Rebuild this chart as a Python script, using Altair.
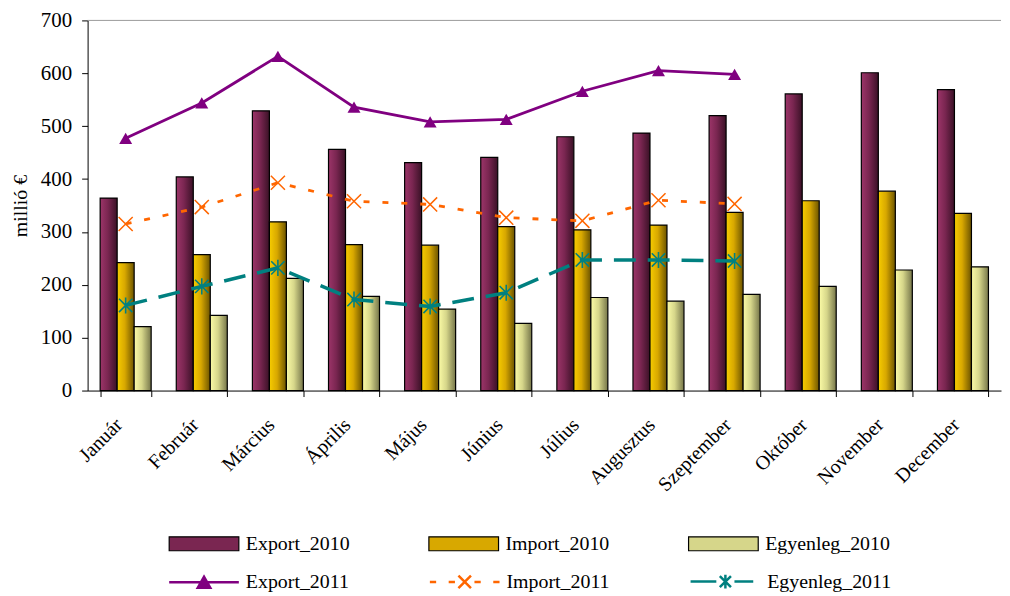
import altair as alt
import pandas as pd

months = ["Január", "Február", "Március", "Április", "Május", "Június",
          "Július", "Augusztus", "Szeptember", "Október", "November", "December"]
export_2010 = [364, 404, 529, 456, 431, 441, 480, 487, 520, 561, 601, 569]
import_2010 = [242, 257, 319, 276, 275, 310, 304, 313, 337, 359, 377, 335]
egyenleg_2010 = [121, 142, 212, 178, 154, 127, 176, 169, 182, 197, 228, 234]

months_2011 = months[:9]
export_2011 = [477, 544, 632, 536, 508, 513, 566, 605, 598]
import_2011 = [315, 347, 393, 358, 352, 327, 321, 360, 353]
egyenleg_2011 = [161, 197, 232, 172, 159, 185, 247, 247, 245]

bar_series = ["Export_2010", "Import_2010", "Egyenleg_2010"]
line_series = ["Export_2011", "Import_2011", "Egyenleg_2011"]

bars_df = pd.DataFrame(
    [{"month": m, "series": s, "value": v}
     for s, vals in zip(bar_series, [export_2010, import_2010, egyenleg_2010])
     for m, v in zip(months, vals)]
)
lines_df = pd.DataFrame(
    [{"month": m, "series": s, "value": v}
     for s, vals in zip(line_series, [export_2011, import_2011, egyenleg_2011])
     for m, v in zip(months_2011, vals)]
)

FONT = "Liberation Serif"

x_enc = alt.X(
    "month:N",
    scale=alt.Scale(domain=months, paddingInner=0.33, paddingOuter=0.165),
    axis=alt.Axis(title=None, labelAngle=315, labelFont=FONT, labelFontSize=20,
                  labelColor="black", labelPadding=18, labelOffset=-14, tickBand="extent",
                  tickSize=6, tickColor="black", domainColor="black",
                  labelAlign="right", labelBaseline="top"),
)
y_enc = alt.Y(
    "value:Q",
    scale=alt.Scale(domain=[0, 700], nice=False),
    axis=alt.Axis(title="millió €", values=[0, 100, 200, 300, 400, 500, 600, 700],
                  grid=False, labelFont=FONT, labelFontSize=21, labelColor="black",
                  labelPadding=10, tickSize=6, tickColor="black", domainColor="black",
                  titleFont=FONT, titleFontSize=20, titleFontWeight="normal",
                  titleColor="black", titlePadding=10),
)
xo_enc = alt.XOffset("series:N", scale=alt.Scale(domain=bar_series, paddingInner=0, paddingOuter=0))

gradients = {
    "Export_2010": [(0, "#9c3569"), (0.45, "#7a2651"), (1, "#3a1126")],
    "Import_2010": [(0, "#f6cc00"), (0.45, "#d8a800"), (1, "#6c5400")],
    "Egyenleg_2010": [(0, "#fbfba6"), (0.45, "#d6d68a"), (1, "#76764a")],
}

top_rule = alt.Chart(pd.DataFrame({"v": [700]})).mark_rule(color="#9a9a9a", strokeWidth=1).encode(y="v:Q")

bar_layers = []
for s in bar_series:
    grad = alt.Gradient(
        gradient="linear", x1=0, x2=1, y1=0, y2=0,
        stops=[alt.GradientStop(offset=o, color=c) for o, c in gradients[s]],
    )
    bar_layers.append(
        alt.Chart(bars_df).transform_filter(alt.datum.series == s)
        .mark_bar(fill=grad, stroke="black", strokeWidth=1.2)
        .encode(x=x_enc, xOffset=xo_enc, y=y_enc)
    )

bar_legend_layer = alt.Chart(bars_df).mark_bar(opacity=0).encode(
    x=x_enc, xOffset=xo_enc, y=y_enc,
    fill=alt.Fill(
        "series:N", title=None,
        scale=alt.Scale(domain=bar_series, range=["#7a2651", "#d8a800", "#d6d68a"]),
        legend=alt.Legend(orient="none", legendX=135, legendY=516, columns=3,
                          columnPadding=55, gridAlign="all", padding=0,
                          symbolType="M-9,-1L1,-1L1,1L-9,1Z", symbolSize=196,
                          symbolStrokeColor="black", symbolStrokeWidth=1.2,
                          symbolOpacity=1, labelFont=FONT, labelFontSize=20,
                          labelColor="black", labelOffset=4, rowPadding=0),
    ),
)

line_colors = ["#800080", "#ff6600", "#008080"]
line_specs = {
    "Export_2011": dict(color="#800080", strokeWidth=2.8),
    "Import_2011": dict(color="#ff6600", strokeWidth=2.8, strokeDash=[6, 13]),
    "Egyenleg_2011": dict(color="#008080", strokeWidth=3.5, strokeDash=[22, 12]),
}
line_layers = [
    alt.Chart(lines_df).transform_filter(alt.datum.series == s)
    .mark_line(**line_specs[s]).encode(x=x_enc, y=y_enc)
    for s in line_series
]

marker_specs = {
    "Export_2011": dict(shape="triangle-up", filled=True, color="#800080", size=170),
    "Import_2011": dict(shape="M-1,-1L1,1M-1,1L1,-1", filled=False, color="#ff6600", size=200, strokeWidth=1.5),
    "Egyenleg_2011": dict(shape="M-1,-1L1,1M-1,1L1,-1M0,-1.2L0,1.2", filled=False, color="#008080", size=180, strokeWidth=1.6),
}
point_layers = [
    alt.Chart(lines_df).transform_filter(alt.datum.series == s)
    .mark_point(opacity=1, **marker_specs[s]).encode(x=x_enc, y=y_enc)
    for s in line_series
]

p_exp = ("M-9,0L1,0M-4.9,0.8L-4,-0.8L-3.1,0.8Z"
         "M-4.6,0.55L-4,-0.45L-3.4,0.55Z M-4.3,0.4L-4,-0.1L-3.7,0.4Z")
p_imp = "M-9,0L-8.1,0M-6.3,0L-5.4,0M-4.9,-0.9L-3.1,0.9M-4.9,0.9L-3.1,-0.9M-2.6,0L-1.7,0M0.1,0L1,0"
p_egy = "M-9,0L-5.3,0M-2.7,0L0,0M-4.8,-0.8L-3.2,0.8M-4.8,0.8L-3.2,-0.8M-4,-1L-4,1"

line_legend = alt.Legend(orient="none", legendX=135, legendY=554, columns=3,
                         columnPadding=55, gridAlign="all", padding=0,
                         symbolSize=196, symbolStrokeWidth=2.5, symbolOpacity=1,
                         labelFont=FONT, labelFontSize=20, labelColor="black",
                         labelOffset=4, rowPadding=0)

line_legend_layer = alt.Chart(lines_df).mark_point(opacity=0, filled=False).encode(
    x=x_enc, y=y_enc,
    shape=alt.Shape("series:N", title=None,
                    scale=alt.Scale(domain=line_series, range=[p_exp, p_imp, p_egy]),
                    legend=line_legend),
    color=alt.Color("series:N", title=None,
                    scale=alt.Scale(domain=line_series, range=line_colors),
                    legend=line_legend),
)

chart = alt.layer(top_rule, *bar_layers, bar_legend_layer, *line_layers, *point_layers,
                  line_legend_layer).properties(
    width=918, height=372,
    padding={"left": 2, "top": 0, "right": 0, "bottom": 0},
    background="white",
).configure_view(stroke=None)

chart.save("out.html", embed_options={"renderer": "svg", "actions": False})
